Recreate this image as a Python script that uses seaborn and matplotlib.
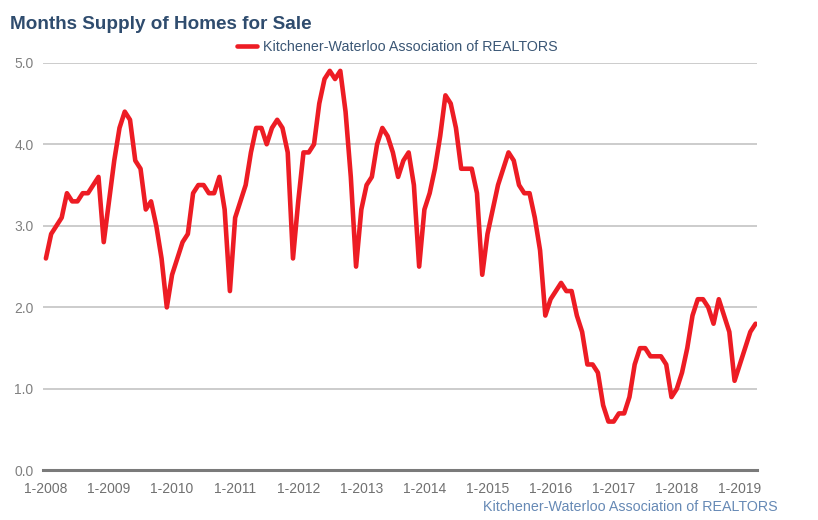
import pandas as pd
import matplotlib
matplotlib.use('Agg')
import matplotlib.pyplot as plt
import seaborn as sns

# monthly months-of-supply, Jan 2008 .. Apr 2019
y2008 = [2.6, 2.9, 3.0, 3.1, 3.4, 3.3, 3.3, 3.4, 3.4, 3.5, 3.6, 2.8]
y2009 = [3.3, 3.8, 4.2, 4.4, 4.3, 3.8, 3.7, 3.2, 3.3, 3.0, 2.6, 2.0]
y2010 = [2.4, 2.6, 2.8, 2.9, 3.4, 3.5, 3.5, 3.4, 3.4, 3.6, 3.2, 2.2]
y2011 = [3.1, 3.3, 3.5, 3.9, 4.2, 4.2, 4.0, 4.2, 4.3, 4.2, 3.9, 2.6]
y2012 = [3.3, 3.9, 3.9, 4.0, 4.5, 4.8, 4.9, 4.8, 4.9, 4.4, 3.6, 2.5]
y2013 = [3.2, 3.5, 3.6, 4.0, 4.2, 4.1, 3.9, 3.6, 3.8, 3.9, 3.5, 2.5]
y2014 = [3.2, 3.4, 3.7, 4.1, 4.6, 4.5, 4.2, 3.7, 3.7, 3.7, 3.4, 2.4]
y2015 = [2.9, 3.2, 3.5, 3.7, 3.9, 3.8, 3.5, 3.4, 3.4, 3.1, 2.7, 1.9]
y2016 = [2.1, 2.2, 2.3, 2.2, 2.2, 1.9, 1.7, 1.3, 1.3, 1.2, 0.8, 0.6]
y2017 = [0.6, 0.7, 0.7, 0.9, 1.3, 1.5, 1.5, 1.4, 1.4, 1.4, 1.3, 0.9]
y2018 = [1.0, 1.2, 1.5, 1.9, 2.1, 2.1, 2.0, 1.8, 2.1, 1.9, 1.7, 1.1]
y2019 = [1.3, 1.5, 1.7, 1.8]

years = list(range(2008, 2020))
tick_labels = ['1-%d' % y for y in years]
series_name = 'Kitchener-Waterloo Association of REALTORS'

values = (y2008 + y2009 + y2010 + y2011 + y2012 + y2013 + y2014 + y2015
          + y2016 + y2017 + y2018 + y2019)
df = pd.DataFrame({'month': range(len(values)), 'supply': values})

sns.set_style('white')
plt.rcParams['font.family'] = ['Liberation Sans', 'DejaVu Sans']

fig = plt.figure(figsize=(8.18, 5.2), dpi=100)
ax = fig.add_axes([0.0529, 0.0952, 0.8721, 0.7842])

sns.lineplot(data=df, x='month', y='supply', ax=ax, color='#ED1C24',
             linewidth=3.3, label=series_name, zorder=3,
             solid_joinstyle='round', solid_capstyle='round')

ax.set_xlim(-0.5, 135.2)
ax.set_ylim(0, 5)
ax.set_yticks([0, 1, 2, 3, 4, 5])
ax.set_yticklabels(['%.1f' % v for v in [0, 1, 2, 3, 4, 5]])
ax.set_xticks([12 * i for i in range(len(years))])
ax.set_xticklabels(tick_labels)
ax.set_xlabel('')
ax.set_ylabel('')

ax.yaxis.grid(True, color='#c8c8c8', linewidth=1.3)
ax.xaxis.grid(False)
for s in ['top', 'right', 'left']:
    ax.spines[s].set_visible(False)
ax.spines['bottom'].set_color('#7a7a7a')
ax.spines['bottom'].set_linewidth(2.2)
ax.spines['bottom'].set_zorder(4)

ax.tick_params(axis='y', length=0, pad=7, labelsize=10, labelcolor='#808080')
ax.tick_params(axis='x', length=4, width=1.6, color='#7a7a7a', pad=4.5,
               labelsize=10, labelcolor='#707070')

ax.get_legend().remove()
handles, labels = ax.get_legend_handles_labels()
fig.legend(handles, labels, loc='center', bbox_to_anchor=(0.486, 0.9096),
           frameon=False, fontsize=10.3, handlelength=1.4, handletextpad=0.4,
           labelcolor='#3a5675')

fig.text(0.012, 1 - 24 / 520, 'Months Supply of Homes for Sale', fontsize=13.6,
         fontweight='bold', color='#2f4c6e', va='center', ha='left')
fig.text(778 / 818, 1 - 507 / 520, series_name, fontsize=10.3, color='#6689b5',
         va='center', ha='right')

fig.savefig('out.png', dpi=100)
